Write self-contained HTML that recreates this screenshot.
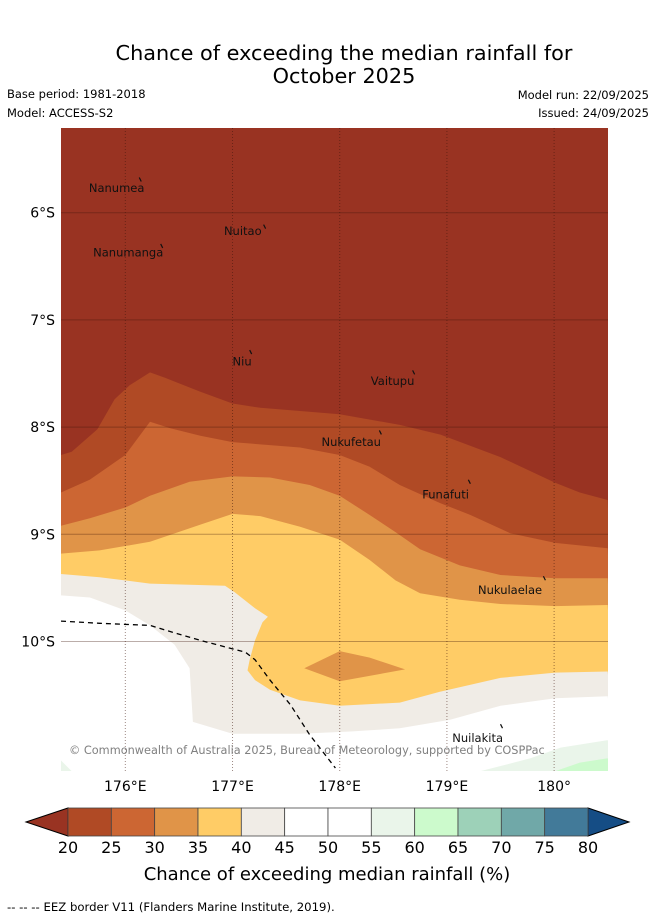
<!DOCTYPE html>
<html><head><meta charset="utf-8"><style>
body{margin:0;background:#fff;width:655px;height:919px;overflow:hidden;font-family:"Liberation Sans","DejaVu Sans",sans-serif;}
svg text{font-family:"DejaVu Sans","Liberation Sans",sans-serif;}
</style></head><body>
<svg id="s" width="655" height="919" xmlns="http://www.w3.org/2000/svg">
<text x="344" y="60" font-size="20.8" text-anchor="middle">Chance of exceeding the median rainfall for</text>
<text x="344" y="83" font-size="20.8" text-anchor="middle">October 2025</text>
<text x="7" y="98" font-size="11.5">Base period: 1981-2018</text>
<text x="7" y="117" font-size="11.5">Model: ACCESS-S2</text>
<text x="649" y="99" font-size="11.5" text-anchor="end">Model run: 22/09/2025</text>
<text x="649" y="117" font-size="11.5" text-anchor="end">Issued: 24/09/2025</text>
<defs><clipPath id="mc"><rect x="61" y="128" width="547" height="643"/></clipPath></defs>
<g id="map" clip-path="url(#mc)"></g>
<g id="ax"></g>
<g id="cb"></g>
<text x="7" y="911" font-size="11.7">-- -- -- EEZ border V11 (Flanders Marine Institute, 2019).</text>
</svg>
<script>
const lonTicks=[176,177,178,179,180];
const lonLabels=["176°E","177°E","178°E","179°E","180°"];
const latTicks=[6,7,8,9,10];
const latLabels=["6°S","7°S","8°S","9°S","10°S"];
const b20=[[175.40,8.26],[175.50,8.23],[175.74,8.02],[175.90,7.74],[176.04,7.61],[176.23,7.49],[176.37,7.54],[176.70,7.67],[177.00,7.78],[177.26,7.82],[178.00,7.88],[178.56,7.98],[178.94,8.07],[179.50,8.28],[180.01,8.52],[180.24,8.61],[180.50,8.68]];
const b25=[[175.40,8.61],[175.67,8.49],[176.00,8.26],[176.23,7.95],[176.42,8.01],[176.70,8.08],[177.00,8.14],[177.63,8.19],[178.00,8.26],[178.28,8.37],[178.56,8.54],[178.94,8.71],[179.22,8.82],[179.59,8.99],[180.01,9.08],[180.50,9.13]];
const b30=[[175.40,8.92],[175.67,8.85],[176.00,8.75],[176.23,8.64],[176.60,8.51],[177.00,8.46],[177.35,8.47],[177.72,8.54],[178.00,8.64],[178.28,8.82],[178.52,8.98],[178.75,9.14],[179.12,9.29],[179.50,9.38],[180.01,9.41],[180.50,9.41]];
const b35=[[175.40,9.18],[175.76,9.15],[176.23,9.07],[176.70,8.91],[177.00,8.81],[177.26,8.83],[177.63,8.93],[178.00,9.05],[178.28,9.24],[178.52,9.43],[178.75,9.55],[179.12,9.61],[179.50,9.65],[180.01,9.67],[180.50,9.66]];
const b40=[[175.40,9.37],[175.76,9.40],[176.23,9.46],[176.93,9.48],[177.02,9.54],[177.21,9.69],[177.33,9.77],[177.28,9.82],[177.21,9.99],[177.16,10.17],[177.14,10.27],[177.21,10.36],[177.35,10.45],[177.63,10.55],[178.00,10.60],[178.56,10.57],[178.93,10.47],[179.50,10.34],[180.01,10.29],[180.50,10.28]];
const b45=[[175.40,9.57],[175.67,9.59],[176.00,9.71],[176.23,9.85],[176.46,10.03],[176.60,10.25],[176.63,10.75],[177.00,10.86],[177.63,10.86],[178.10,10.84],[178.56,10.81],[179.03,10.73],[179.50,10.60],[180.01,10.53],[180.50,10.51]];
const blob=[[177.67,10.25],[178.00,10.09],[178.28,10.15],[178.61,10.26],[178.00,10.37]];
const g55=[[179.31,11.21],[179.78,11.09],[180.06,10.99],[180.50,10.92]];
const g60=[[180.01,11.21],[180.24,11.13],[180.50,11.09]];
const g55w=[[175.40,11.11],[175.50,11.21]];
const eez=[[175.40,9.81],[175.76,9.83],[176.23,9.85],[176.46,9.92],[176.74,10.00],[177.12,10.10],[177.21,10.17],[177.35,10.36],[177.54,10.59],[177.72,10.87],[177.96,11.18]];
const islandNames=["Nanumea","Nuitao","Nanumanga","Niu","Vaitupu","Nukufetau","Funafuti","Nukulaelae","Nuilakita"];
const islandLon=[175.66,176.92,175.70,177.00,178.29,177.83,178.77,179.29,179.05];
const islandLat=[5.77,6.17,6.37,7.39,7.57,8.14,8.63,9.52,10.90];
const markLon=[176.13,177.29,176.33,177.16,178.68,178.37,179.20,179.90,179.50];
const markLat=[5.69,6.13,6.31,7.30,7.49,8.05,8.51,9.41,10.79];
const cbLevels=[20,25,30,35,40,45,50,55,60,65,70,75,80];
const cbColors=["#b04a25","#cc6633","#e09448","#ffcc66","#f0ece6","#ffffff","#ffffff","#eaf5ea","#ccfacc","#9dd1b8","#70a8a8","#427a99"];
const x=lon=>61+(lon-175.4)*107.2;
const y=lat=>128+(lat-5.21)*107.2;
const NS="http://www.w3.org/2000/svg";
function mk(p,t,a){const e=document.createElementNS(NS,t);for(const k in a)e.setAttribute(k,a[k]);p.appendChild(e);return e;}
const map=document.getElementById('map'),ax=document.getElementById('ax'),cb=document.getElementById('cb');
let bg=mk(map,'rect',{x:61,y:128,width:547,height:643,fill:'#993322'});


function pts(a){return a.map(p=>x(p[0]).toFixed(1)+','+y(p[1]).toFixed(1)).join(' ');}
function below(a,col,name){const s=pts(a)+' '+x(180.6)+','+y(11.4)+' '+x(175.3)+','+y(11.4);
 const e=mk(map,'polygon',{points:s,fill:col});
 
 }
below(b20,cbColors[0],'band-20-25');
below(b25,cbColors[1],'band-25-30');
below(b30,cbColors[2],'band-30-35');
below(b35,cbColors[3],'band-35-40');
below(b40,cbColors[4],'band-40-45');
below(b45,'#ffffff','band-45-55');
let bl=mk(map,'polygon',{points:pts(blob),fill:cbColors[2]});


below(g55,cbColors[7],'band-55-60');
below(g60,cbColors[8],'band-60-65');
let gw=mk(map,'polygon',{points:pts(g55w)+' '+x(175.4)+','+y(11.21),fill:cbColors[7]});


latTicks.forEach((v,i)=>{const l=mk(map,'line',{x1:61,x2:608,y1:y(v),y2:y(v),stroke:'rgba(60,20,10,0.35)','stroke-width':1});
 
 
 const t=mk(ax,'text',{x:55,y:y(v)+5,'font-size':14,'text-anchor':'end'});t.textContent=latLabels[i];
 
 });
lonTicks.forEach((v,i)=>{const l=mk(map,'line',{x1:x(v),x2:x(v),y1:128,y2:771,stroke:'rgba(60,20,10,0.5)','stroke-width':1,'stroke-dasharray':'1,2'});
 
 
 const t=mk(ax,'text',{x:x(v),y:791,'font-size':14,'text-anchor':'middle'});t.textContent=lonLabels[i];
 
 });
let ez=mk(map,'polyline',{points:pts(eez),fill:'none',stroke:'#000','stroke-width':1.3,'stroke-dasharray':'5,4'});


islandNames.forEach((n,i)=>{const t=mk(map,'text',{x:x(islandLon[i]),y:y(islandLat[i])+4,'font-size':11.5,'text-anchor':'start',fill:'#111'});t.textContent=n;
 
 
 const m=mk(map,'line',{x1:x(markLon[i]),y1:y(markLat[i])-2,x2:x(markLon[i])+2,y2:y(markLat[i])+2,stroke:'#111','stroke-width':1.2});
 
 });
let cp=mk(map,'text',{x:69,y:754,'font-size':11.3,fill:'#808080'});cp.textContent='© Commonwealth of Australia 2025, Bureau of Meteorology, supported by COSPPac';


const cx=v=>68+(v-20)*(520/60);
let lt=mk(cb,'polygon',{points:'26,822 68,808 68,836',fill:'#993322',stroke:'#000','stroke-width':1});


let rt=mk(cb,'polygon',{points:'629,822 588,808 588,836',fill:'#154d85',stroke:'#000','stroke-width':1});


cbColors.forEach((c,i)=>{const r=mk(cb,'rect',{x:cx(cbLevels[i]),y:808,width:cx(cbLevels[i+1])-cx(cbLevels[i]),height:28,fill:c,stroke:'#444','stroke-width':0.8});
 
 });
cbLevels.forEach(v=>{const t=mk(cb,'text',{x:cx(v),y:853,'font-size':16,'text-anchor':'middle'});t.textContent=v;
 
 });
let ct=mk(cb,'text',{x:327,y:880,'font-size':18,'text-anchor':'middle'});ct.textContent='Chance of exceeding median rainfall (%)';


</script>
</body></html>
